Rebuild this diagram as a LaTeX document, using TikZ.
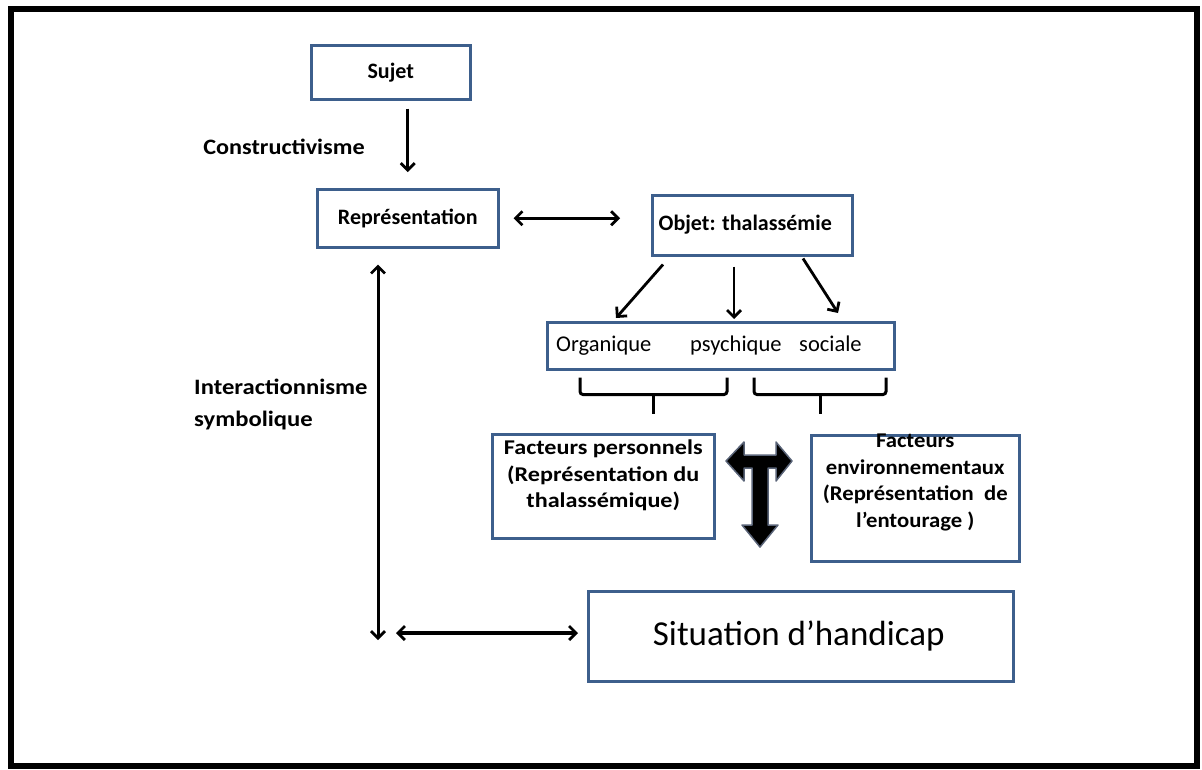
\documentclass[tikz,border=0pt]{standalone}
\usepackage{fontspec}
\usepackage{graphicx}
\setmainfont{Carlito}
\usetikzlibrary{arrows.meta,calc}
\definecolor{boxblue}{RGB}{61,95,140}
\definecolor{shadowgrey}{RGB}{90,100,120}
\newcommand{\stretchtext}[2]{\scalebox{#1}[1]{#2}}
\tikzset{
  box/.style={draw=boxblue, line width=2.5pt, inner sep=0pt, anchor=north west},
  bl/.style={font=\bfseries\fontsize{22}{28}\selectfont, inner sep=0pt},
  rl/.style={font=\fontsize{22.5}{28}\selectfont, inner sep=0pt},
  fb/.style={font=\bfseries\fontsize{21}{26.5}\selectfont, inner sep=0pt},
  barb/.tip={Straight Barb[length=7pt,width=14pt,line width=2.8pt]},
  arr/.style={line width=2.8pt, -barb},
  darr/.style={line width=3.5pt, barb-barb},
  brace/.style={line width=3pt, rounded corners=3pt},
}
\begin{document}
\begin{tikzpicture}[x=1pt,y=-1pt]
\useasboundingbox (0,0) rectangle (1202,769);
\draw[line width=6pt] (11,9) rectangle (1197,766);

% boxes
\node[box, minimum width=159pt, minimum height=54pt] (sujet) at (310,44) {};
\node[bl] (sujett) at (sujet.center) {Sujet};
\node[box, minimum width=181pt, minimum height=58pt] (repr) at (316,188) {};
\node[bl] (reprt) at (repr.center) {Représentation};
\node[box, minimum width=200pt, minimum height=60pt] (objet) at (651,194) {};
\node[bl] (objett) at ($(objet.center)+(-7,-1)$) {Objet: thalassémie};
\node[box, minimum width=347pt, minimum height=47pt] (org) at (546,321) {};
\node[rl, anchor=base west] (orga) at ($(org.west)+(10,6)$) {Organique};
\node[rl, anchor=base west] (psy) at ($(org.west)+(144,6)$) {psychique};
\node[rl, anchor=base west] (soc) at ($(org.west)+(253,6)$) {sociale};
\node[box, minimum width=222pt, minimum height=104pt] (fp) at (491,433) {};
\node[fb, anchor=north] (fpt) at ($(fp.north)+(0,3)$) {\stretchtext{1.15}{\begin{tabular}{@{}c@{}}Facteurs personnels\\(Représentation du\\thalassémique)\end{tabular}}};
\node[box, minimum width=208pt, minimum height=126pt] (fe) at (810,434) {};
\node[fb, anchor=north] (fet) at ($(fe.north)+(0,-5)$) {\stretchtext{1.08}{\begin{tabular}{@{}c@{}}Facteurs\\environnementaux\\(Représentation~ de\\l’entourage )\end{tabular}}};
\node[box, minimum width=425pt, minimum height=90pt] (sit) at (587,590) {};
\node[font=\fontsize{35}{40}\selectfont] (sitt) at ($(sit.center)+(-2,0)$) {Situation d’handicap};

% labels
\node[bl] (cons) at (284,147) {\stretchtext{1.1}{Constructivisme}};
\node[bl, anchor=west] (inter) at (194,404) {\stretchtext{1.12}{\fontsize{22}{32}\selectfont\begin{tabular}{@{}l@{}}Interactionnisme\\symbolique\end{tabular}}};

% arrows
\draw[arr] ([yshift=-8pt]sujet.south -| repr.north) -- ([yshift=16pt]repr.north);
\draw[darr] ([xshift=14pt]repr.east) -- ([xshift=-31pt]objet.west |- repr.east);
\draw[arr] ($(objet.south west)+(12,8)$) -- ($(org.north west)+(70,-3)$);
\draw[arr] ($(objet.south west)+(83,10)$) -- ($(org.north west)+(188,-2)$);
\draw[arr] ($(objet.south west)+(152,2)$) -- ($(org.north west)+(292,-8)$);

\coordinate (vb) at (378,640);
\draw[line width=3pt, barb-barb] ($(repr.south west)+(62,16)$) -- (vb);
\coordinate (hl) at (396,633);
\draw[line width=4pt, barb-barb] (hl) -- ([xshift=-9pt]sit.west |- hl);

% brackets
\draw[brace] ($(org.south west)+(34,7)$) |- ($(org.south west)+(181,24)$) -- ($(org.south west)+(181,7)$);
\draw[brace] ($(org.south west)+(107,24)$) -- ($(org.south west)+(107,43)$);
\draw[brace] ($(org.south west)+(208,7)$) |- ($(org.south west)+(340,24)$) -- ($(org.south west)+(340,7)$);
\draw[brace] ($(org.south west)+(274,24)$) -- ($(org.south west)+(274,43)$);

% T block arrow
\draw[fill=black, draw=shadowgrey, line width=1.5pt, line join=round]
 (726,461) -- (744,442) -- (744,455) -- (776,455) -- (776,442) -- (792,461)
 -- (776,481) -- (776,468) -- (768,468) -- (768,525) -- (778,525) -- (760,547)
 -- (742,525) -- (752,525) -- (752,468) -- (744,468) -- (744,481) -- cycle;
\end{tikzpicture}
\end{document}
